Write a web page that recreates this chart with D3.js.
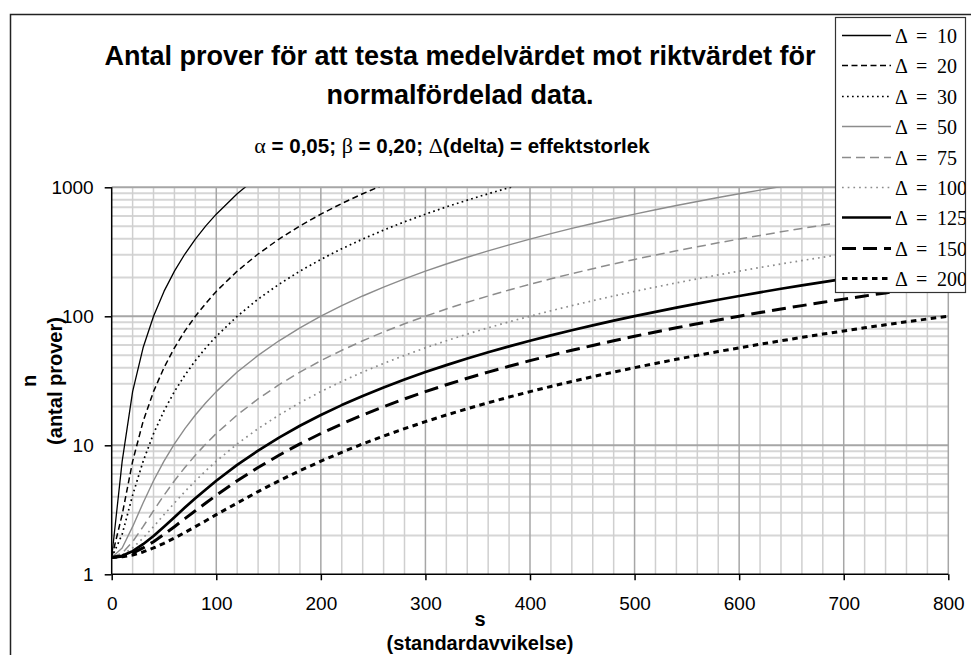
<!DOCTYPE html>
<html>
<head>
<meta charset="utf-8">
<script src="https://cdn.jsdelivr.net/npm/d3@7"></script>
<style>
  html, body { margin: 0; padding: 0; background: #fff; }
  svg { display: block; }
</style>
</head>
<body>
<svg id="chart" width="971" height="655"></svg>
<script>
// Standard deviation s (x axis)
const sValues = [0, 10, 20, 30, 40, 50, 60, 70, 80, 90, 100,
  120, 140, 160, 180, 200, 220, 240, 260, 280, 300, 320, 340, 360, 380, 400,
  420, 440, 460, 480, 500, 520, 540, 560, 580, 600, 620, 640, 660, 680, 700,
  720, 740, 760, 780, 800];

// Required number of samples n for each effect size Δ
const nDelta10 = [1.35, 7.5, 26.1, 57.0, 100, 156, 224, 304, 397, 502, 619, 891, 1213];
const nDelta20 = [1.35, 2.9, 7.5, 15.3, 26.1, 40.0, 57.0, 77.1, 100, 126, 156,
  224, 304, 397, 502, 619, 749, 891, 1046];
const nDelta30 = [1.35, 2.04, 4.1, 7.5, 12.3, 18.5, 26.1, 35.0, 45.3, 57.0, 70.0,
  100, 136, 177, 224, 276, 334, 397, 466, 540, 619, 705, 795, 891, 993, 1100];
const nDelta50 = [1.35, 1.6, 2.34, 3.57, 5.31, 7.53, 10.25, 13.46, 17.17, 21.37, 26.07,
  36.95, 49.8, 64.6, 81.4, 100.2, 121.0, 143.7, 168.5, 195.2, 223.8, 254.5, 287.1, 321.7,
  358.3, 396.9, 437.4, 479.9, 524.4, 570.9, 619.4, 669.8, 722.2, 776.6, 832.9, 891.3,
  951.6, 1013.9];
const nDelta75 = [1.35, 1.46, 1.79, 2.34, 3.11, 4.1, 5.31, 6.73, 8.38, 10.25, 12.34,
  17.17, 22.88, 29.48, 36.95, 45.3, 54.5, 64.6, 75.6, 87.5, 100.2, 113.9, 128.4, 143.7,
  160.0, 177.1, 195.2, 214.1, 233.8, 254.5, 276.0, 298.4, 321.7, 345.9, 371.0, 396.9,
  423.7, 451.4, 479.9, 509.4, 539.7, 570.9, 603.0, 635.9, 669.8, 704.5];
const nDelta100 = [1.35, 1.41, 1.6, 1.91, 2.34, 2.9, 3.57, 4.38, 5.31, 6.36, 7.53,
  10.25, 13.46, 17.17, 21.37, 26.07, 31.26, 36.95, 43.13, 49.8, 56.97, 64.63, 72.79, 81.44,
  90.59, 100.2, 110.4, 121.0, 132.1, 143.7, 155.9, 168.5, 181.6, 195.2, 209.2, 223.8,
  238.9, 254.5, 270.5, 287.1, 304.2, 321.7, 339.8, 358.3, 377.3, 396.9];
const nDelta125 = [1.35, 1.39, 1.51, 1.71, 1.98, 2.34, 2.77, 3.29, 3.88, 4.55, 5.31,
  7.05, 9.1, 11.48, 14.17, 17.17, 20.49, 24.13, 28.09, 32.36, 36.95, 41.85, 47.07, 52.61,
  58.46, 64.63, 71.12, 77.92, 85.04, 92.48, 100.2, 108.3, 116.7, 125.4, 134.4, 143.7,
  153.4, 163.4, 173.6, 184.2, 195.2, 206.4, 218.0, 229.8, 242.0, 254.5];
const nDelta150 = [1.35, 1.38, 1.46, 1.6, 1.79, 2.04, 2.34, 2.7, 3.11, 3.57, 4.1,
  5.31, 6.73, 8.38, 10.25, 12.34, 14.64, 17.17, 19.92, 22.88, 26.07, 29.48, 33.1, 36.95,
  41.01, 45.3, 49.8, 54.53, 59.47, 64.63, 70.02, 75.62, 81.44, 87.49, 93.75, 100.2,
  106.9, 113.9, 121.0, 128.4, 135.9, 143.7, 151.8, 160.0, 168.5, 177.1];
const nDelta200 = [1.35, 1.37, 1.41, 1.49, 1.6, 1.74, 1.91, 2.11, 2.34, 2.6, 2.9,
  3.57, 4.38, 5.31, 6.36, 7.53, 8.83, 10.25, 11.79, 13.46, 15.26, 17.17, 19.21, 21.37,
  23.66, 26.07, 28.6, 31.26, 34.04, 36.95, 39.98, 43.13, 46.4, 49.8, 53.32, 56.97,
  60.74, 64.63, 68.65, 72.79, 77.06, 81.44, 85.95, 90.59, 95.35, 100.2];

const deltaLabels = ["10", "20", "30", "50", "75", "100", "125", "150", "200"];
const xTickValues = [0, 100, 200, 300, 400, 500, 600, 700, 800];
const yTickValues = [1, 10, 100, 1000];

const seriesValues = [nDelta10, nDelta20, nDelta30, nDelta50, nDelta75,
  nDelta100, nDelta125, nDelta150, nDelta200];

// Line appearance per series
const seriesStyles = [
  { color: "#000", width: 1.3, dash: null },
  { color: "#000", width: 1.5, dash: "6,3.5" },
  { color: "#000", width: 1.7, dash: "1.7,3.3" },
  { color: "#8c8c8c", width: 1.4, dash: null },
  { color: "#8c8c8c", width: 1.5, dash: "9,5" },
  { color: "#8c8c8c", width: 1.7, dash: "1.7,4" },
  { color: "#000", width: 2.7, dash: null },
  { color: "#000", width: 3, dash: "14,7" },
  { color: "#000", width: 3, dash: "5.5,4.5" }
];

const svg = d3.select("#chart");

const plot = { left: 111.7, right: 948.3, top: 187.3, bottom: 574.3 };

const x = d3.scaleLinear().domain([0, 800]).range([plot.left, plot.right]);
const y = d3.scaleLog().domain([1, 1000]).range([plot.bottom, plot.top]);

// Outer chart frame (left and top edges)
svg.append("path")
  .attr("d", "M10.5,655 L10.5,14.5 L971,14.5")
  .attr("fill", "none").attr("stroke", "#222").attr("stroke-width", 1.5);

// Titles
const fontSans = "'Liberation Sans', Arial, Helvetica, sans-serif";
const fontSerif = "'Liberation Serif', 'Times New Roman', serif";
const titleX = 460;

svg.append("text")
  .attr("x", titleX).attr("y", 65)
  .attr("text-anchor", "middle")
  .style("font-family", fontSans).style("font-weight", "bold").style("font-size", "27px")
  .text("Antal prover för att testa medelvärdet mot riktvärdet för");

svg.append("text")
  .attr("x", titleX).attr("y", 104)
  .attr("text-anchor", "middle")
  .style("font-family", fontSans).style("font-weight", "bold").style("font-size", "27px")
  .text("normalfördelad data.");

const sub = svg.append("text")
  .attr("x", titleX - 8).attr("y", 153)
  .attr("text-anchor", "middle")
  .style("font-family", fontSans).style("font-weight", "bold").style("font-size", "20.5px");
const subParts = [
  { t: "α", greek: true }, { t: " = 0,05; " },
  { t: "β", greek: true }, { t: " = 0,20; " },
  { t: "Δ", greek: true }, { t: "(delta) = effektstorlek" }
];
subParts.forEach(p => {
  const ts = sub.append("tspan").text(p.t);
  if (p.greek) ts.style("font-family", fontSerif).style("font-weight", "normal").style("font-size", "22px");
});

// Grid
const grid = svg.append("g");
const minorX = d3.range(20, 801, 20).filter(v => v % 100 !== 0);
const majorX = d3.range(100, 801, 100);
const minorY = [];
[1, 10, 100].forEach(dec => { for (let k = 2; k <= 9; k++) minorY.push(dec * k); });
const majorY = [10, 100, 1000];

grid.selectAll(".hminor").data(minorY).join("line")
  .attr("x1", plot.left).attr("x2", plot.right)
  .attr("y1", d => y(d)).attr("y2", d => y(d))
  .attr("stroke", "#d6d6d6").attr("stroke-width", 2);
grid.selectAll(".vminor").data(minorX).join("line")
  .attr("x1", d => x(d)).attr("x2", d => x(d))
  .attr("y1", plot.top).attr("y2", plot.bottom)
  .attr("stroke", "#cfcfcf").attr("stroke-width", 1.5);
grid.selectAll(".hmajor").data(majorY).join("line")
  .attr("x1", plot.left).attr("x2", plot.right)
  .attr("y1", d => y(d)).attr("y2", d => y(d))
  .attr("stroke", "#a6a6a6").attr("stroke-width", 2);
grid.selectAll(".vmajor").data(majorX).join("line")
  .attr("x1", d => x(d)).attr("x2", d => x(d))
  .attr("y1", plot.top).attr("y2", plot.bottom)
  .attr("stroke", "#a6a6a6").attr("stroke-width", 1.5);

// Clip region for the curves
svg.append("defs").append("clipPath").attr("id", "plotClip")
  .append("rect")
  .attr("x", plot.left).attr("y", plot.top)
  .attr("width", plot.right - plot.left).attr("height", plot.bottom - plot.top);

const line = d3.line()
  .x((d, i) => x(sValues[i]))
  .y(d => y(d));

const curves = svg.append("g").attr("clip-path", "url(#plotClip)");
seriesValues.forEach((vals, i) => {
  const st = seriesStyles[i];
  curves.append("path")
    .datum(vals)
    .attr("d", line)
    .attr("fill", "none")
    .attr("stroke", st.color)
    .attr("stroke-width", st.width)
    .attr("stroke-dasharray", st.dash)
    .attr("stroke-linejoin", "round");
});

// Axes
const yAxis = svg.append("g")
  .attr("transform", `translate(${plot.left},0)`)
  .call(d3.axisLeft(y).tickValues(yTickValues).tickFormat(d3.format("d")).tickSize(7).tickPadding(11));
const xAxis = svg.append("g")
  .attr("transform", `translate(0,${plot.bottom})`)
  .call(d3.axisBottom(x).tickValues(xTickValues).tickFormat(d3.format("d")).tickSize(6).tickPadding(16));

[yAxis, xAxis].forEach(ax => {
  ax.select(".domain").attr("stroke", "#000").attr("stroke-width", 1.5);
  ax.selectAll(".tick line").attr("stroke", "#000").attr("stroke-width", 1.5);
  ax.selectAll(".tick text")
    .attr("fill", "#000")
    .style("font-family", fontSans).style("font-size", "19px");
});
// Keep only the axis line itself, without end caps
yAxis.select(".domain").attr("d", `M0,${plot.top}V${plot.bottom}`);
xAxis.select(".domain").attr("d", `M${plot.left},0H${plot.right}`);

// Axis titles
svg.append("text")
  .attr("transform", "translate(36,381) rotate(-90)")
  .attr("text-anchor", "middle")
  .style("font-family", fontSans).style("font-weight", "bold").style("font-size", "20px")
  .text("n");
svg.append("text")
  .attr("transform", "translate(62,381) rotate(-90)")
  .attr("text-anchor", "middle")
  .style("font-family", fontSans).style("font-weight", "bold").style("font-size", "20px")
  .text("(antal prover)");

svg.append("text")
  .attr("x", 480).attr("y", 626)
  .attr("text-anchor", "middle")
  .style("font-family", fontSans).style("font-weight", "bold").style("font-size", "20px")
  .text("s");
svg.append("text")
  .attr("x", 480).attr("y", 650)
  .attr("text-anchor", "middle")
  .style("font-family", fontSans).style("font-weight", "bold").style("font-size", "20px")
  .text("(standardavvikelse)");

// Legend
const legend = { x: 835.5, y: 17.5, w: 130, h: 275 };
svg.append("defs").append("clipPath").attr("id", "legendClip")
  .append("rect").attr("x", legend.x).attr("y", legend.y).attr("width", legend.w).attr("height", legend.h);

const lg = svg.append("g");
lg.append("rect")
  .attr("x", legend.x).attr("y", legend.y).attr("width", legend.w).attr("height", legend.h)
  .attr("fill", "#fff").attr("stroke", "#333").attr("stroke-width", 1.2);

const legendItems = lg.append("g").attr("clip-path", "url(#legendClip)");
const rowY = d3.scaleLinear().domain([0, 8]).range([35, 278]);
deltaLabels.forEach((lab, i) => {
  const st = seriesStyles[i];
  const cy = Math.round(rowY(i)) + 0.5;
  legendItems.append("line")
    .attr("x1", 842).attr("x2", 891).attr("y1", cy).attr("y2", cy)
    .attr("stroke", st.color).attr("stroke-width", st.width)
    .attr("stroke-dasharray", st.dash);
  legendItems.append("text")
    .attr("x", 895).attr("y", cy + 7)
    .style("font-family", fontSerif).style("font-size", "20px")
    .text("Δ");
  legendItems.append("text")
    .attr("x", 916).attr("y", cy + 7)
    .style("font-family", fontSerif).style("font-size", "20px")
    .text("=");
  legendItems.append("text")
    .attr("x", 937).attr("y", cy + 7)
    .style("font-family", fontSerif).style("font-size", "20px")
    .text(lab);
});
</script>
</body>
</html>
